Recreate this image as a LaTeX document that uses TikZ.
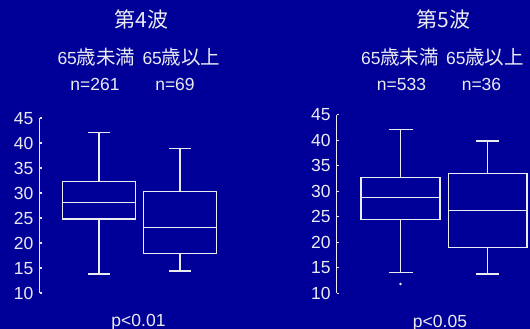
\documentclass[tikz,border=0pt]{standalone}
\usepackage{fontspec}
\setmainfont{Liberation Sans}
\newfontfamily\cjk{Noto Sans CJK JP}
\definecolor{bgblue}{RGB}{0,0,153}
\definecolor{fg}{RGB}{235,235,242}
\newcommand{\jpk}[1]{{\fontsize{19.5}{20}\selectfont\cjk #1}}
\newcommand{\bxplot}[9]{%
  % #1 center x, #2 box left, #3 box right, #4 cap half, #5 whisker low, #6 q1, #7 median, #8 q3, #9 whisker high
  \draw[plotline] (#2,#6) rectangle (#3,#8);
  \draw[plotline] (#2,#7) -- (#3,#7);
  \draw[plotline] (#1,#8) -- (#1,#9);
  \draw[plotline] (#1,#6) -- (#1,#5);
  \draw[plotline] (#1-#4,#9) -- (#1+#4,#9);
  \draw[plotline] (#1-#4,#5) -- (#1+#4,#5);
}
\begin{document}
\begin{tikzpicture}[x=1pt,y=-1pt,
  plotline/.style={draw=fg,line width=1.5pt},
  axisline/.style={draw=fg,line width=1.1pt},
  ticklbl/.style={text=fg,font=\fontsize{17.5}{18}\selectfont,anchor=base east,inner sep=0pt},
  lbl/.style={text=fg,font=\fontsize{17.5}{18}\selectfont,anchor=base,inner sep=0pt},
  ttl/.style={text=fg,font=\fontsize{21}{22}\selectfont,anchor=base,inner sep=0pt}]
\fill[bgblue] (0,0) rectangle (530,329);
\useasboundingbox (0,0) rectangle (530,329);
% ---------- left panel ----------
\node[ttl] (t4) at (141.5,28) {\cjk 第4波};
\node[lbl] (la1) at (96.5,65) {65\jpk{歳未満}};
\node[lbl] (la2) at (181.5,65) {65\jpk{歳以上}};
\node[lbl] (ln1) at (95,90) {n=261};
\node[lbl] (ln2) at (175,90) {n=69};
\draw[axisline] (39.5,118) -- (39.5,293);
\foreach \v in {10,15,...,45}{
  \pgfmathsetmacro{\yy}{293-5*(\v-10)}
  \draw[axisline] (39.5,\yy) -- (41.5,\yy);
  \node[ticklbl] at (33.5,\yy+6) {\v};
}
\bxplot{99}{62.5}{135.5}{11}{274}{219}{202.3}{181.7}{132.3}
\bxplot{180}{143.5}{216.5}{11}{271}{253.7}{227.3}{191.7}{148.7}
\node[lbl] (p1) at (138.5,326.5) {p<0.01};
% ---------- right panel ----------
\node[ttl] (t5) at (443.5,28) {\cjk 第5波};
\node[lbl] (ra1) at (400,65) {65\jpk{歳未満}};
\node[lbl] (ra2) at (485,65) {65\jpk{歳以上}};
\node[lbl] (rn1) at (401.5,90) {n=533};
\node[lbl] (rn2) at (481.5,90) {n=36};
\draw[axisline] (336.5,114.8) -- (336.5,293.3);
\foreach \v in {10,15,...,45}{
  \pgfmathsetmacro{\yy}{293.3-5.1*(\v-10)}
  \draw[axisline] (336.5,\yy) -- (338.5,\yy);
  \node[ticklbl] at (330.7,\yy+6) {\v};
}
\bxplot{400.7}{361}{440}{12}{272.7}{219.3}{197.7}{177.3}{129.7}
\bxplot{487.7}{448.3}{527}{11.7}{274}{247.7}{210.3}{173.3}{141}
\fill[fg] (400.5,284) circle (1.4);
\node[lbl] (p2) at (440,327.5) {p<0.05};
\end{tikzpicture}
\end{document}
